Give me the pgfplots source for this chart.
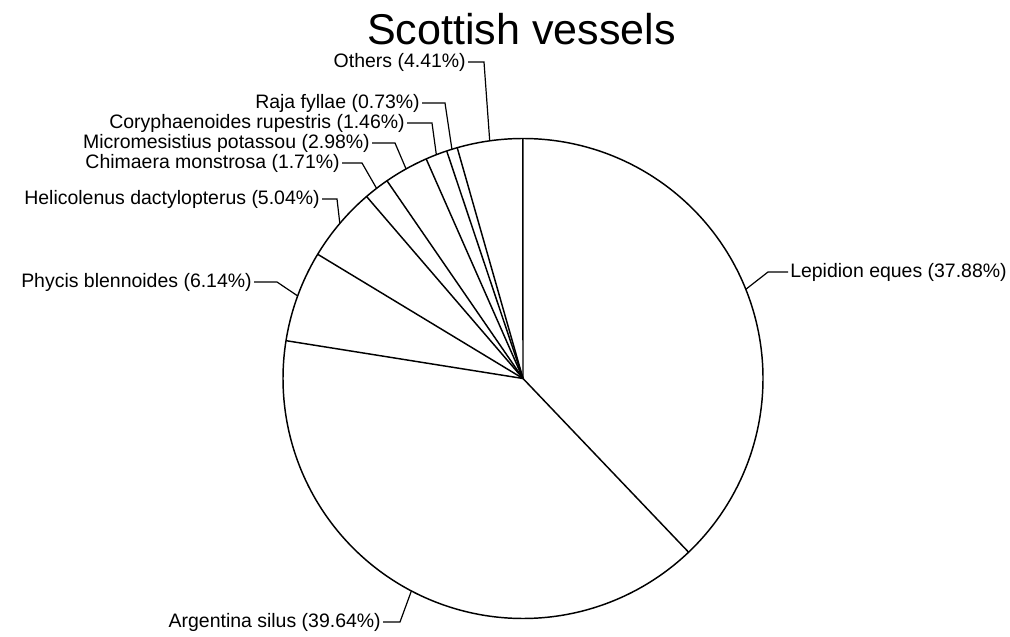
\documentclass[border=0pt]{standalone}
\usepackage{pgfplots}
\usepackage{pgfplotstable}
\usepackage{fontspec}
\setmainfont{Liberation Sans}
\pgfplotsset{compat=1.18}

% slice shares in percent, clockwise from 12 o'clock
\pgfplotstableread{
pct
37.88
39.64
6.14
5.04
1.71
2.98
1.46
0.73
4.41
}\piedata

\def\cx{523}
\def\cy{257.5}
\def\rr{240}

\newcommand\leader[4]{%
  \edef\tmp{\noexpand\addplot[black,line width=0.9pt] coordinates {(#2,#4) (#3,#4) (\csname mx#1\endcsname,\csname my#1\endcsname)};}\tmp}

\begin{document}
\begin{tikzpicture}
% compute slice boundary and mid angles from the data
\gdef\cum{0}
\foreach \i in {0,...,8}{%
  \pgfplotstablegetelem{\i}{pct}\of\piedata
  \let\p\pgfplotsretval
  \pgfmathsetmacro\midang{90-3.6*(\cum+\p/2)}%
  \pgfmathsetmacro\newcum{\cum+\p}%
  \pgfmathsetmacro\endang{90-3.6*\newcum}%
  \pgfmathsetmacro\ex{\cx+\rr*cos(\endang)}%
  \pgfmathsetmacro\ey{\cy+\rr*sin(\endang)}%
  \pgfmathsetmacro\mx{\cx+\rr*cos(\midang)}%
  \pgfmathsetmacro\my{\cy+\rr*sin(\midang)}%
  \expandafter\xdef\csname ex\i\endcsname{\ex}%
  \expandafter\xdef\csname ey\i\endcsname{\ey}%
  \expandafter\xdef\csname mx\i\endcsname{\mx}%
  \expandafter\xdef\csname my\i\endcsname{\my}%
  \xdef\cum{\newcum}%
}
\begin{axis}[
  width=757.5pt, height=477pt, scale only axis,
  xmin=0, xmax=1010, ymin=0, ymax=636,
  hide axis, clip=false,
]
% outline
\addplot[black, line width=1.1pt, domain=0:360, samples=361] ({\cx+\rr*cos(x)},{\cy+\rr*sin(x)});
% slice boundaries
\pgfplotsinvokeforeach{0,...,8}{%
  \edef\tmp{\noexpand\addplot[black,line width=1.1pt] coordinates {(\cx,\cy) (\csname ex#1\endcsname,\csname ey#1\endcsname)};}\tmp
}
% leader lines
\leader{0}{788}{768}{364}
\leader{1}{383}{400}{14}
\leader{2}{254}{277}{354}
\leader{3}{322}{337}{437}
\leader{4}{342}{362}{473}
\leader{5}{372}{395}{493}
\leader{6}{407}{432}{513}
\leader{7}{422}{445}{533}
\leader{8}{468}{484}{574}
% labels
\begin{scope}[every node/.style={font=\fontsize{14.6}{17}\selectfont, inner sep=0pt}]
\node[anchor=west] at (axis cs:790,364) {Lepidion eques (37.88\%)};
\node[anchor=east] at (axis cs:381,14) {Argentina silus (39.64\%)};
\node[anchor=east] at (axis cs:252,354) {Phycis blennoides (6.14\%)};
\node[anchor=east] at (axis cs:320,437) {Helicolenus dactylopterus (5.04\%)};
\node[anchor=east] at (axis cs:340,473) {Chimaera monstrosa (1.71\%)};
\node[anchor=east] at (axis cs:370,493) {Micromesistius potassou (2.98\%)};
\node[anchor=east] at (axis cs:405,513) {Coryphaenoides rupestris (1.46\%)};
\node[anchor=east] at (axis cs:420,533) {Raja fyllae (0.73\%)};
\node[anchor=east] at (axis cs:466,574) {Others (4.41\%)};
\end{scope}
\node[anchor=base, font=\fontsize{32.3}{38}\selectfont, inner sep=0pt] at (axis cs:521.5,591) {Scottish vessels};
\end{axis}
\pgfresetboundingbox
\path (current axis.south west) rectangle (current axis.north east);
\end{tikzpicture}
\end{document}
